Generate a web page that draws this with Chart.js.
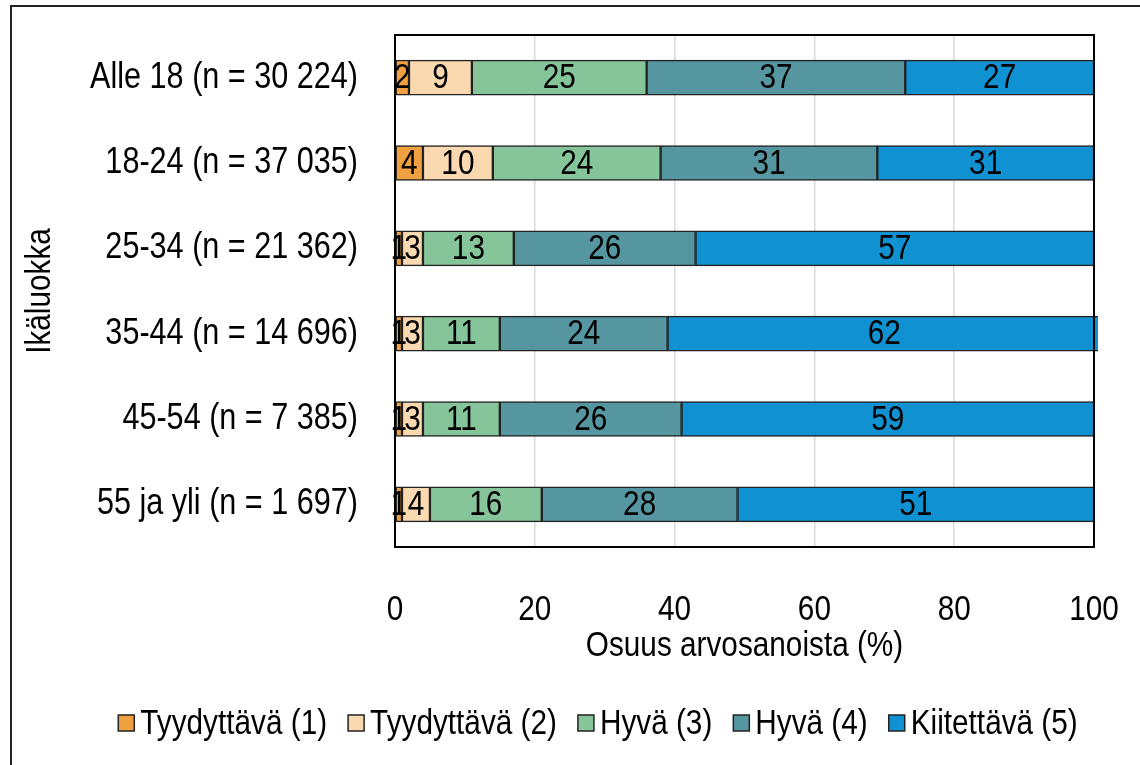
<!DOCTYPE html>
<html>
<head>
<meta charset="utf-8">
<script src="https://cdn.jsdelivr.net/npm/chart.js"></script>
<style>
  html, body { margin: 0; padding: 0; background: #fff; }
</style>
</head>
<body>
<canvas id="myChart" width="1140" height="765"></canvas>
<script>
// Ikäluokat ja arvosanojen osuudet (%)
const ikaluokat = ['Alle 18 (n = 30 224)', '18-24 (n = 37 035)', '25-34 (n = 21 362)',
                   '35-44 (n = 14 696)', '45-54 (n = 7 385)', '55 ja yli (n = 1 697)'];
const arvosanat = ['Tyydyttävä (1)', 'Tyydyttävä (2)', 'Hyvä (3)', 'Hyvä (4)', 'Kiitettävä (5)'];
const arvosana1 = [2, 4, 1, 1, 1, 1];
const arvosana2 = [9, 10, 3, 3, 3, 4];
const arvosana3 = [25, 24, 13, 11, 11, 16];
const arvosana4 = [37, 31, 26, 24, 26, 28];
const arvosana5 = [27, 31, 57, 62, 59, 51];
const xTicks = [0, 20, 40, 60, 80, 100];

const varit = ['rgb(240, 160, 64)', 'rgb(250, 216, 176)', 'rgb(134, 197, 153)',
               'rgb(86, 150, 160)', 'rgb(16, 146, 210)'];
const fontti = '"Liberation Sans", Arial, sans-serif';

const sarjat = [arvosana1, arvosana2, arvosana3, arvosana4, arvosana5];

const ctx = document.getElementById('myChart').getContext('2d');

// Kapea fontti puuttuu, joten teksti puristetaan vaakasuunnassa (Arial Narrow -tyyli)
const kapeus = 0.85;
const alkupFill = ctx.fillText.bind(ctx);
const alkupMeasure = ctx.measureText.bind(ctx);
ctx.fillText = function(t, x, y) {
  ctx.save();
  ctx.translate(x, y);
  ctx.scale(kapeus, 1);
  alkupFill(t, 0, 0);
  ctx.restore();
};
ctx.measureText = function(t) {
  const m = alkupMeasure(t);
  return {
    width: m.width * kapeus,
    actualBoundingBoxAscent: m.actualBoundingBoxAscent,
    actualBoundingBoxDescent: m.actualBoundingBoxDescent,
    actualBoundingBoxLeft: m.actualBoundingBoxLeft * kapeus,
    actualBoundingBoxRight: m.actualBoundingBoxRight * kapeus
  };
};

// Kehykset: ulkoreunus ja kuva-alueen reunus
const kehys = {
  id: 'kehys',
  beforeDraw(chart) {
    const c = chart.ctx;
    c.save();
    c.fillStyle = '#fff';
    c.fillRect(0, 0, chart.width, chart.height);
    c.strokeStyle = '#222';
    c.lineWidth = 2;
    c.strokeRect(11, 6, 1300, 1000);
    c.restore();
  },
  afterDatasetsDraw(chart) {
    const a = chart.chartArea;
    const c = chart.ctx;
    c.save();
    c.strokeStyle = '#000';
    c.lineWidth = 2;
    c.strokeRect(a.left, a.top, a.right - a.left, a.bottom - a.top);
    c.restore();
  }
};

// Arvot palkkien keskelle
const arvot = {
  id: 'arvot',
  afterDatasetsDraw(chart) {
    const c = chart.ctx;
    c.save();
    c.font = '35px ' + fontti;
    c.fillStyle = '#000';
    c.textAlign = 'center';
    c.textBaseline = 'middle';
    chart.data.datasets.forEach(function(ds, i) {
      chart.getDatasetMeta(i).data.forEach(function(bar, j) {
        c.fillText(ds.data[j], (bar.x + bar.base) / 2, bar.y + 1);
      });
    });
    c.restore();
  }
};

// Selite alareunaan (laatikko lähellä tekstiä, kuten Excelissä)
const selite = {
  id: 'selite',
  afterDraw(chart) {
    const c = chart.ctx;
    const ds = chart.data.datasets;
    const laatikko = 16, vali = 6, erotus = 21, y = 723;
    c.save();
    c.font = '35px ' + fontti;
    c.textAlign = 'left';
    c.textBaseline = 'middle';
    const leveydet = ds.map(d => c.measureText(d.label).width);
    const yhteensa = leveydet.reduce((s, w) => s + laatikko + vali + w, 0) + erotus * (ds.length - 1);
    let x = chart.width / 2 + 28 - yhteensa / 2;
    ds.forEach(function(d, i) {
      c.fillStyle = d.backgroundColor;
      c.fillRect(x, y - laatikko / 2, laatikko, laatikko);
      c.strokeStyle = '#222';
      c.lineWidth = 1.5;
      c.strokeRect(x, y - laatikko / 2, laatikko, laatikko);
      c.fillStyle = '#000';
      c.fillText(d.label, x + laatikko + vali, y + 1);
      x += laatikko + vali + leveydet[i] + erotus;
    });
    c.restore();
  }
};

const myChart = new Chart(ctx, {
  type: 'bar',
  data: {
    labels: ikaluokat,
    datasets: sarjat.map(function(d, i) {
      return {
        label: arvosanat[i],
        data: d,
        backgroundColor: varit[i],
        borderColor: '#222',
        borderWidth: 1.5,
        borderSkipped: false,
        barThickness: 35,
        clip: 4
      };
    })
  },
  options: {
    indexAxis: 'y',
    responsive: false,
    animation: false,
    layout: { padding: { top: 35, right: 46, bottom: 63, left: 0 } },
    scales: {
      x: {
        stacked: true,
        min: 0,
        max: 100,
        afterBuildTicks(scale) { scale.ticks = xTicks.map(v => ({ value: v })); },
        afterFit(scale) {
          scale.height = 155;
          scale.paddingLeft = 0;
          scale.paddingRight = 0;
        },
        grid: { color: '#d9d9d9', lineWidth: 1.5, drawTicks: false },
        border: { display: true, color: '#000', width: 2 },
        ticks: { color: '#000', padding: 42, font: { size: 35, family: fontti } },
        title: {
          display: true,
          text: 'Osuus arvosanoista (%)',
          color: '#000',
          font: { size: 35, family: fontti },
          padding: { top: 0, bottom: 35 }
        }
      },
      y: {
        stacked: true,
        afterFit(scale) {
          scale.width = 395;
          scale.paddingTop = 0;
          scale.paddingBottom = 0;
        },
        grid: { display: false, drawTicks: false },
        border: { display: true, color: '#000', width: 2 },
        ticks: { color: '#000', padding: 37, font: { size: 36, family: fontti } },
        title: {
          display: true,
          text: 'Ikäluokka',
          color: '#000',
          font: { size: 35, family: fontti },
          padding: { top: 19, bottom: 0 }
        }
      }
    },
    plugins: {
      legend: { display: false },
      tooltip: { enabled: false }
    }
  },
  plugins: [kehys, arvot, selite]
});
</script>
</body>
</html>
